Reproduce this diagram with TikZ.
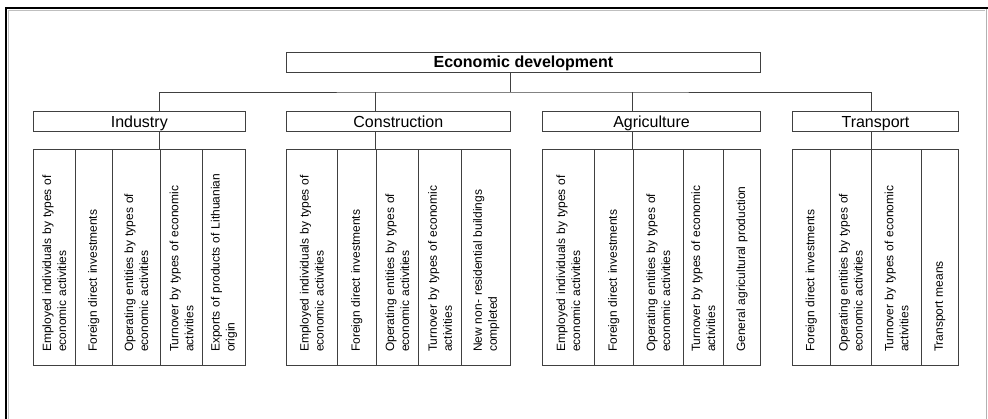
\documentclass[tikz,border=0pt]{standalone}
\usepackage{fontspec}
\setmainfont{Liberation Sans}
\begin{document}
\begin{tikzpicture}[x=1pt, y=-1pt, line width=.9pt,
  box/.style={draw=black!75, minimum height=20, inner sep=0, text height=12, text depth=0, font=\fontsize{16}{19}\selectfont},
  leaf/.style={draw=black!75, rotate=90, minimum width=215.7, text width=189.7, inner xsep=13, inner ysep=0, align=left, font=\fontsize{12}{15}\selectfont},
  link/.style={draw=black!75}]
\useasboundingbox (0,0) rectangle (988,419);
% frame
\draw[gray!50, line width=.8pt] (8.5,430) -- (8.5,10) -- (985,10);
\draw[line width=2pt] (6,430) -- (6,8) -- (988,8);
\draw[gray!60, line width=1pt] (986,9) -- (986,430);

\node[box, minimum width=474.7, font=\fontsize{16}{19}\bfseries\selectfont] (top) at (523.4,62) {Economic development};

\node[box, minimum width=212] (ind) at (139.3,121.7) {Industry};
\node[box, minimum width=224.7] (con) at (398.35,121.7) {Construction};
\node[box, minimum width=218.4] (agr) at (651.5,121.7) {Agriculture};
\node[box, minimum width=165.6] (tra) at (875.5,121.7) {Transport};

% Industry
\node[leaf, minimum height=42] (i1) at (54.3,257.15) {Employed individuals by types of\\economic activities};
\node[leaf, minimum height=37] (i2) at (93.8,257.15) {Foreign direct investments};
\node[leaf, minimum height=48] (i3) at (136.3,257.15) {Operating entities by types of\\economic activities};
\node[leaf, minimum height=42.4] (i4) at (181.5,257.15) {Turnover by types of economic\\activities};
\node[leaf, minimum height=42.6] (i5) at (224,257.15) {Exports of products of Lithuanian\\origin};
% Construction
\node[leaf, minimum height=51.7] (c1) at (311.85,257.15) {Employed individuals by types of\\economic activities};
\node[leaf, minimum height=38.3] (c2) at (356.85,257.15) {Foreign direct investments};
\node[leaf, minimum height=42.7] (c3) at (397.35,257.15) {Operating entities by types of\\economic activities};
\node[leaf, minimum height=43] (c4) at (440.2,257.15) {Turnover by types of economic\\activities};
\node[leaf, minimum height=49] (c5) at (486.2,257.15) {New non- residential buildings\\completed};
% Agriculture
\node[leaf, minimum height=52] (a1) at (568.3,257.15) {Employed individuals by types of\\economic activities};
\node[leaf, minimum height=39] (a2) at (613.8,257.15) {Foreign direct investments};
\node[leaf, minimum height=50] (a3) at (658.3,257.15) {Operating entities by types of\\economic activities};
\node[leaf, minimum height=40] (a4) at (703.3,257.15) {Turnover by types of economic\\activities};
\node[leaf, minimum height=37.4] (a5) at (742,257.15) {General agricultural production};
% Transport
\node[leaf, minimum height=37.3] (t1) at (811.35,257.15) {Foreign direct investments};
\node[leaf, minimum height=41.7] (t2) at (850.85,257.15) {Operating entities by types of\\economic activities};
\node[leaf, minimum height=50] (t3) at (896.7,257.15) {Turnover by types of economic\\activities};
\node[leaf, minimum height=36.6] (t4) at (940,257.15) {Transport means};

% connectors
\coordinate (joint) at (510,92);
\draw[link] (top.south -| joint) -- (joint);
\draw[link] (i4.north east |- ind.north) |- (joint) -| (t3.north east |- tra.north);
\draw[link] (c3.north east |- con.north) -- (c3.north east |- joint);
\draw[link] (a3.north east |- agr.north) -- (a3.north east |- joint);
\draw[link] (i4.north east |- ind.south) -- (i4.north east);
\draw[link] (c3.north east |- con.south) -- (c3.north east);
\draw[link] (a3.north east |- agr.south) -- (a3.north east);
\draw[link] (t3.north east |- tra.south) -- (t3.north east);

\end{tikzpicture}
\end{document}
